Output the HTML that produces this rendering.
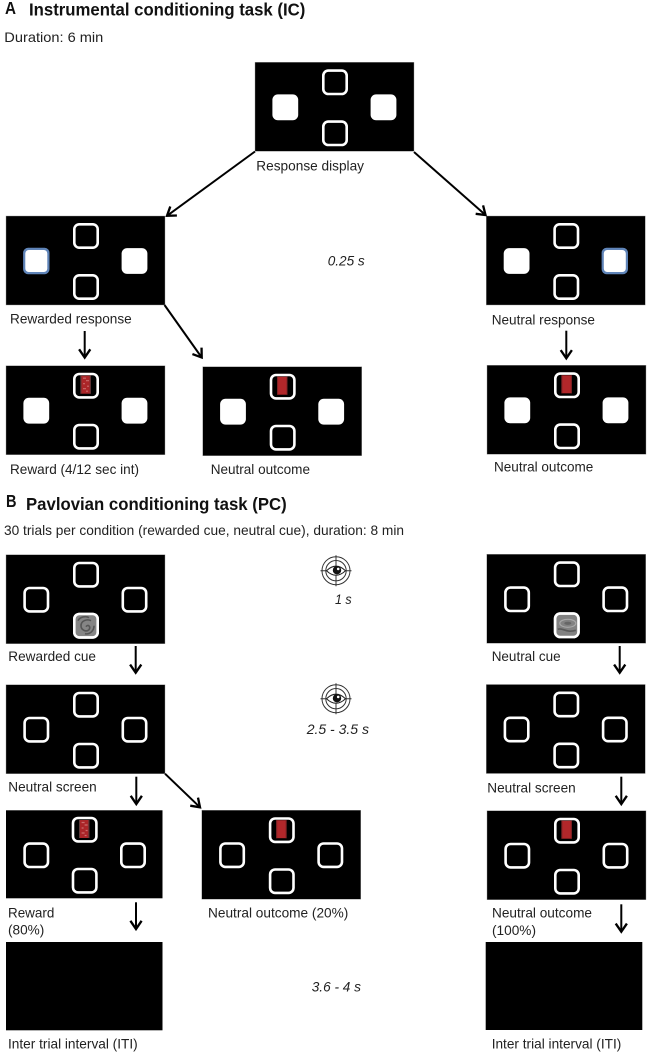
<!DOCTYPE html>
<html><head><meta charset="utf-8">
<style>
html,body{margin:0;padding:0;background:#fff;width:649px;height:1055px;overflow:hidden}
svg{display:block;filter:blur(.35px)}
text{font-family:"Liberation Sans",Arial,sans-serif;font-size:14px;fill:#222}
.h{font-weight:bold;font-size:17.5px;fill:#111}
.i{font-style:italic}
</style></head><body>
<svg width="649" height="1055" viewBox="0 0 649 1055" xmlns="http://www.w3.org/2000/svg">
<defs>
<marker id="ah" markerUnits="userSpaceOnUse" markerWidth="14" markerHeight="14" refX="10" refY="6" orient="auto" viewBox="0 0 12 12">
<path d="M3 1.2 L10 6 L3 10.8" fill="none" stroke="#000" stroke-width="2"/>
</marker>
<rect id="bg" width="159" height="89" fill="#000" stroke="#999" stroke-width=".4"/>
<rect id="o" x="1.3" y="1.3" width="23.4" height="23.4" rx="5" fill="none" stroke="#fff" stroke-width="2.6"/>
<rect id="f" x=".1" y=".1" width="25.8" height="25.8" rx="5.5" fill="#fff"/>
<g id="hl"><rect x="-.2" y="-.2" width="26.4" height="26.4" rx="5" fill="#5f84b8"/><rect x="2" y="2" width="22" height="22" rx="3.5" fill="#fff"/></g>
<g id="tb"><use href="#o" x="67" y="7"/><use href="#o" x="67" y="58"/></g>
<g id="ic"><use href="#tb"/><use href="#f" x="17.3" y="32"/><use href="#f" x="115.5" y="32"/></g>
<g id="pc"><use href="#tb"/><use href="#o" x="17.3" y="32"/><use href="#o" x="115.5" y="32"/></g>
<g id="red"><rect x="74.4" y="10" width="10.4" height="18" fill="#b1272a"/><rect x="74.4" y="10" width="1" height="18" fill="#7d2325"/><rect x="83.8" y="10" width="1" height="18" fill="#7d2325"/></g>
<g id="rew"><rect x="74.4" y="10" width="10.4" height="18" fill="#ab2528"/>
<path d="M77 12.5h3M80 15h3M77 18h2M81 20.5h2M77 23h3M80 25.5h2" stroke="#c96a6a" stroke-width="1.2"/>
<rect x="74.4" y="10" width="1" height="18" fill="#5a3a3a"/><rect x="83.8" y="10" width="1" height="18" fill="#5a3a3a"/></g>
<g id="eye" fill="none" stroke="#333" stroke-width="1">
<circle r="14"/><circle r="10.2"/><path d="M-15.5 0H15.5M0 -15.5V15.5"/>
<path d="M-9.5 0Q0 -9 9.5 0Q0 9 -9.5 0Z" fill="#fff" stroke="#222"/>
<circle cx="1" cy="-.5" r="4.2" fill="#111" stroke="none"/><circle cx="2.2" cy="-1.8" r="1.3" fill="#fff" stroke="none"/>
</g>
</defs>

<!-- Panels A -->
<g transform="translate(255,62.3)"><use href="#bg"/><use href="#ic"/></g>
<g transform="translate(6,216)"><use href="#bg"/><use href="#tb"/><use href="#hl" x="17.3" y="32"/><use href="#f" x="115.5" y="32"/></g>
<g transform="translate(486.3,216)"><use href="#bg"/><use href="#tb"/><use href="#f" x="17.3" y="32"/><use href="#hl" x="115.5" y="32"/></g>
<g transform="translate(6,365.7)"><use href="#bg"/><use href="#ic"/><use href="#rew"/></g>
<g transform="translate(202.7,366.7)"><use href="#bg"/><use href="#ic"/><use href="#red"/></g>
<g transform="translate(487,365.3)"><use href="#bg"/><use href="#ic"/><use href="#red"/></g>

<!-- Panels B left -->
<g transform="translate(6,554.7)"><use href="#bg"/><use href="#pc"/>
  <g transform="translate(67,58)">
    <rect x="2.5" y="2.5" width="21" height="21" fill="#858585"/>
    <path d="M13 14 C15 11 18 14 16 17 C13 20 8 17 8 13 C8 8 14 6 18 8 M5 8 C7 4 13 3 16 5 M21 13 C21 18 17 22 12 21" fill="none" stroke="#555" stroke-width="1.6"/>
    <use href="#o"/>
  </g>
</g>
<g transform="translate(6,684.7)"><use href="#bg"/><use href="#pc"/></g>
<g transform="translate(6,810.3)"><rect width="156.5" height="88" fill="#000"/>
  <use href="#o" x="65.7" y="6.4"/><use href="#o" x="65.7" y="57.4"/><use href="#o" x="17.3" y="32"/><use href="#o" x="114" y="32"/>
  <use href="#rew" x="-1.4" y="-.3"/>
</g>
<g transform="translate(201.8,810.2)"><use href="#bg"/><use href="#pc"/><use href="#red"/></g>
<rect x="6" y="942" width="156.5" height="88.3" fill="#000"/>

<!-- Panels B right -->
<g transform="translate(486.8,554.3)"><use href="#bg"/><use href="#pc"/>
  <g transform="translate(67,58)">
    <rect x="2.5" y="2.5" width="21" height="21" fill="#828282"/>
    <ellipse cx="14" cy="11" rx="8" ry="4" fill="none" stroke="#a8a8a8" stroke-width="1.2"/>
    <ellipse cx="14" cy="11" rx="3.5" ry="1.6" fill="#666"/>
    <path d="M4 17 C9 15 12 21 22 18" fill="none" stroke="#5a5a5a" stroke-width="1.6"/>
    <use href="#o"/>
  </g>
</g>
<g transform="translate(486.3,684.5)"><use href="#bg"/><use href="#pc"/></g>
<g transform="translate(487,810.7)"><use href="#bg"/><use href="#pc"/><use href="#red"/></g>
<rect x="485.7" y="942" width="156.6" height="88" fill="#000"/>

<!-- Arrows -->
<g stroke="#000" stroke-width="2" fill="none">
<line x1="255" y1="151.5" x2="167" y2="215.8" marker-end="url(#ah)"/>
<line x1="414" y1="152" x2="485.5" y2="215" marker-end="url(#ah)"/>
<line x1="164.5" y1="305" x2="201.7" y2="357.5" marker-end="url(#ah)"/>
<line x1="84.7" y1="331" x2="84.7" y2="357.5" marker-end="url(#ah)"/>
<line x1="566.3" y1="330.7" x2="566.3" y2="358.3" marker-end="url(#ah)"/>
<line x1="135.7" y1="646" x2="135.7" y2="672.7" marker-end="url(#ah)"/>
<line x1="136.3" y1="776.7" x2="136.3" y2="804" marker-end="url(#ah)"/>
<line x1="165" y1="773.7" x2="200" y2="807.3" marker-end="url(#ah)"/>
<line x1="136" y1="902.3" x2="136" y2="929" marker-end="url(#ah)"/>
<line x1="619.7" y1="646" x2="619.7" y2="672.7" marker-end="url(#ah)"/>
<line x1="621.3" y1="776.7" x2="621.3" y2="804" marker-end="url(#ah)"/>
<line x1="621.3" y1="904.3" x2="621.3" y2="931.7" marker-end="url(#ah)"/>
</g>

<!-- Eye icons -->
<use href="#eye" x="336" y="570.7"/>
<use href="#eye" x="336" y="698.7"/>

<!-- Text -->
<text class="h" x="5" y="14" textLength="11" lengthAdjust="spacingAndGlyphs">A</text>
<text class="h" x="29" y="15.7" textLength="276.3" lengthAdjust="spacingAndGlyphs">Instrumental conditioning task (IC)</text>
<text x="4.3" y="42" textLength="99" lengthAdjust="spacingAndGlyphs">Duration: 6 min</text>
<text x="256.3" y="170.3" textLength="107.7" lengthAdjust="spacingAndGlyphs">Response display</text>
<text x="10" y="323.3" textLength="121.7" lengthAdjust="spacingAndGlyphs">Rewarded response</text>
<text class="i" x="327.7" y="265.7" textLength="37" lengthAdjust="spacingAndGlyphs">0.25 s</text>
<text x="491.7" y="324.3" textLength="103.3" lengthAdjust="spacingAndGlyphs">Neutral response</text>
<text x="10" y="474" textLength="129" lengthAdjust="spacingAndGlyphs">Reward (4/12 sec int)</text>
<text x="210.7" y="474" textLength="99.3" lengthAdjust="spacingAndGlyphs">Neutral outcome</text>
<text x="494" y="471.7" textLength="99.3" lengthAdjust="spacingAndGlyphs">Neutral outcome</text>
<text class="h" x="6" y="507" textLength="10.5" lengthAdjust="spacingAndGlyphs">B</text>
<text class="h" x="26" y="510" textLength="260.7" lengthAdjust="spacingAndGlyphs">Pavlovian conditioning task (PC)</text>
<text x="4" y="535" textLength="400" lengthAdjust="spacingAndGlyphs">30 trials per condition (rewarded cue, neutral cue), duration: 8 min</text>
<text x="8.3" y="661" textLength="87.7" lengthAdjust="spacingAndGlyphs">Rewarded cue</text>
<text class="i" x="335" y="604" textLength="16.7" lengthAdjust="spacingAndGlyphs">1 s</text>
<text x="491.7" y="661" textLength="69" lengthAdjust="spacingAndGlyphs">Neutral cue</text>
<text class="i" x="306.7" y="734" textLength="62.3" lengthAdjust="spacingAndGlyphs">2.5 - 3.5 s</text>
<text x="8.3" y="791.7" textLength="88.4" lengthAdjust="spacingAndGlyphs">Neutral screen</text>
<text x="487.3" y="792.7" textLength="88.4" lengthAdjust="spacingAndGlyphs">Neutral screen</text>
<text x="8" y="917.3" textLength="46.3" lengthAdjust="spacingAndGlyphs">Reward</text>
<text x="8" y="934.3" textLength="36.3" lengthAdjust="spacingAndGlyphs">(80%)</text>
<text x="208" y="917.3" textLength="140.3" lengthAdjust="spacingAndGlyphs">Neutral outcome (20%)</text>
<text x="492" y="917.3" textLength="100" lengthAdjust="spacingAndGlyphs">Neutral outcome</text>
<text x="492" y="935" textLength="44" lengthAdjust="spacingAndGlyphs">(100%)</text>
<text class="i" x="311.7" y="991.7" textLength="49.3" lengthAdjust="spacingAndGlyphs">3.6 - 4 s</text>
<text x="8" y="1048.3" textLength="129.7" lengthAdjust="spacingAndGlyphs">Inter trial interval (ITI)</text>
<text x="491.7" y="1048.3" textLength="129.6" lengthAdjust="spacingAndGlyphs">Inter trial interval (ITI)</text>
</svg>
</body></html>
